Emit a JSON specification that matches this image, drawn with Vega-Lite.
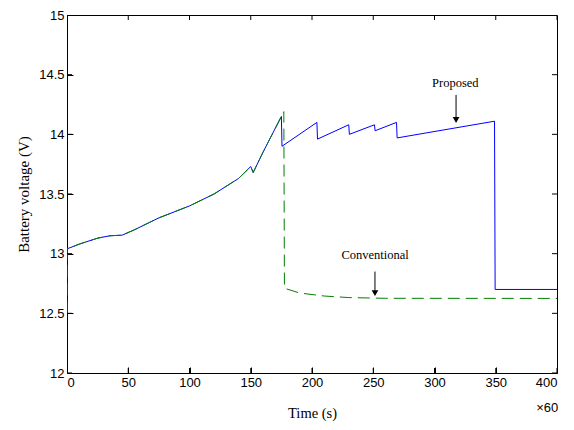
{
  "$schema": "https://vega.github.io/schema/vega-lite/v6.json",
  "width": 490,
  "height": 358,
  "autosize": "none",
  "padding": {"left": 67, "top": 15, "right": 17, "bottom": 57},
  "background": "white",
  "config": {
    "view": {"stroke": "black", "strokeWidth": 1},
    "axis": {
      "grid": false,
      "domain": false,
      "ticks": true,
      "tickColor": "#000000",
      "tickWidth": 1,
      "tickOpacity": 1,
      "zindex": 1,
      "labelColor": "black",
      "labelFont": "Liberation Sans",
      "labelFontSize": 13,
      "titleFont": "Liberation Serif",
      "titleFontSize": 14,
      "titleFontWeight": "normal",
      "titleColor": "black",
      "tickSize": 6,
      "offset": -6
    }
  },
  "datasets": {
    "proposed": [
      {"i": 0, "t": 0, "v": 12.5},
      {"i": 1, "t": 0, "v": 13.04},
      {"i": 2, "t": 10, "v": 13.08},
      {"i": 3, "t": 25, "v": 13.13},
      {"i": 4, "t": 35, "v": 13.15},
      {"i": 5, "t": 45, "v": 13.155},
      {"i": 6, "t": 55, "v": 13.2},
      {"i": 7, "t": 75, "v": 13.3},
      {"i": 8, "t": 100, "v": 13.4},
      {"i": 9, "t": 120, "v": 13.5},
      {"i": 10, "t": 140, "v": 13.63},
      {"i": 11, "t": 150, "v": 13.73},
      {"i": 12, "t": 152, "v": 13.68},
      {"i": 13, "t": 160, "v": 13.85},
      {"i": 14, "t": 170, "v": 14.05},
      {"i": 15, "t": 175, "v": 14.15},
      {"i": 16, "t": 175.5, "v": 13.9},
      {"i": 17, "t": 204, "v": 14.1},
      {"i": 18, "t": 204.5, "v": 13.96},
      {"i": 19, "t": 230, "v": 14.08},
      {"i": 20, "t": 230.5, "v": 14.0},
      {"i": 21, "t": 251, "v": 14.08},
      {"i": 22, "t": 251.5, "v": 14.03},
      {"i": 23, "t": 269, "v": 14.1},
      {"i": 24, "t": 269.5, "v": 13.97},
      {"i": 25, "t": 349, "v": 14.11},
      {"i": 26, "t": 349.5, "v": 12.7},
      {"i": 27, "t": 400, "v": 12.7}
    ],
    "conventional": [
      {"i": 0, "t": 0, "v": 12.5},
      {"i": 1, "t": 0, "v": 13.04},
      {"i": 2, "t": 10, "v": 13.08},
      {"i": 3, "t": 25, "v": 13.13},
      {"i": 4, "t": 35, "v": 13.15},
      {"i": 5, "t": 45, "v": 13.155},
      {"i": 6, "t": 55, "v": 13.2},
      {"i": 7, "t": 75, "v": 13.3},
      {"i": 8, "t": 100, "v": 13.4},
      {"i": 9, "t": 120, "v": 13.5},
      {"i": 10, "t": 140, "v": 13.63},
      {"i": 11, "t": 150, "v": 13.73},
      {"i": 12, "t": 152, "v": 13.68},
      {"i": 13, "t": 160, "v": 13.85},
      {"i": 14, "t": 170, "v": 14.05},
      {"i": 15, "t": 177, "v": 14.19},
      {"i": 16, "t": 177.5, "v": 12.71},
      {"i": 17, "t": 190, "v": 12.67},
      {"i": 18, "t": 210, "v": 12.645},
      {"i": 19, "t": 230, "v": 12.632},
      {"i": 20, "t": 260, "v": 12.626},
      {"i": 21, "t": 400, "v": 12.625}
    ],
    "labels": [
      {"label": "Proposed", "t": 317, "v": 14.43},
      {"label": "Conventional", "t": 251.5, "v": 12.99}
    ],
    "arrows": [
      {"t": 317.6, "v1": 14.33, "v2": 14.12, "vh": 14.12},
      {"t": 251.4, "v1": 12.85, "v2": 12.66, "vh": 12.67}
    ],
    "mult": [
      {"label": "×60", "t": 392, "v": 11.71}
    ],
    "xticks": [
      {"t": 0}, {"t": 50}, {"t": 100}, {"t": 150}, {"t": 200}, {"t": 250}, {"t": 300}, {"t": 350}, {"t": 400}
    ],
    "yticks": [
      {"v": 12}, {"v": 12.5}, {"v": 13}, {"v": 13.5}, {"v": 14}, {"v": 14.5}, {"v": 15}
    ]
  },
  "layer": [
    {
      "data": {"name": "proposed"},
      "mark": {"type": "line", "color": "#0000ff", "strokeWidth": 1, "clip": true},
      "encoding": {
        "x": {"field": "t", "type": "quantitative", "scale": {"domain": [0, 400], "nice": false},
          "axis": {"values": [0, 50, 100, 150, 200, 250, 300, 350, 400], "title": "Time (s)", "labelPadding": 3, "titlePadding": 17, "titleFontSize": 14.5}},
        "y": {"field": "v", "type": "quantitative", "scale": {"domain": [12, 15], "nice": false, "zero": false},
          "axis": {"values": [12, 12.5, 13, 13.5, 14, 14.5, 15], "labelExpr": "'' + datum.value", "title": "Battery voltage (V)", "labelPadding": 3, "titlePadding": 7, "titleFontSize": 15}},
        "order": {"field": "i", "type": "quantitative"}
      }
    },
    {
      "data": {"name": "conventional"},
      "mark": {"type": "line", "color": "#008000", "strokeWidth": 1, "strokeDash": [12, 6], "clip": true},
      "encoding": {
        "x": {"field": "t", "type": "quantitative", "axis": null},
        "y": {"field": "v", "type": "quantitative", "axis": null},
        "order": {"field": "i", "type": "quantitative"}
      }
    },
    {
      "data": {"name": "xticks"},
      "mark": {"type": "tick", "orient": "vertical", "color": "black", "size": 10, "thickness": 1, "opacity": 1, "clip": true},
      "encoding": {
        "x": {"field": "t", "type": "quantitative", "axis": null},
        "y": {"datum": 12, "type": "quantitative", "axis": null}
      }
    },
    {
      "data": {"name": "xticks"},
      "mark": {"type": "tick", "orient": "vertical", "color": "black", "size": 10, "thickness": 1, "opacity": 1, "clip": true},
      "encoding": {
        "x": {"field": "t", "type": "quantitative", "axis": null},
        "y": {"datum": 15, "type": "quantitative", "axis": null}
      }
    },
    {
      "data": {"name": "yticks"},
      "mark": {"type": "tick", "orient": "horizontal", "color": "black", "size": 10, "thickness": 1, "opacity": 1, "clip": true},
      "encoding": {
        "y": {"field": "v", "type": "quantitative", "axis": null},
        "x": {"datum": 0, "type": "quantitative", "axis": null}
      }
    },
    {
      "data": {"name": "yticks"},
      "mark": {"type": "tick", "orient": "horizontal", "color": "black", "size": 10, "thickness": 1, "opacity": 1, "clip": true},
      "encoding": {
        "y": {"field": "v", "type": "quantitative", "axis": null},
        "x": {"datum": 400, "type": "quantitative", "axis": null}
      }
    },
    {
      "data": {"name": "arrows"},
      "mark": {"type": "rule", "color": "black", "strokeWidth": 1},
      "encoding": {
        "x": {"field": "t", "type": "quantitative", "axis": null},
        "y": {"field": "v1", "type": "quantitative", "axis": null},
        "y2": {"field": "v2"}
      }
    },
    {
      "data": {"name": "arrows"},
      "mark": {"type": "point", "shape": "triangle-down", "filled": true, "color": "black", "opacity": 1, "size": 45},
      "encoding": {
        "x": {"field": "t", "type": "quantitative", "axis": null},
        "y": {"field": "vh", "type": "quantitative", "axis": null}
      }
    },
    {
      "data": {"name": "labels"},
      "mark": {"type": "text", "font": "Liberation Serif", "fontSize": 12.5, "letterSpacing": 1.2, "color": "black", "align": "center", "baseline": "middle"},
      "encoding": {
        "x": {"field": "t", "type": "quantitative", "axis": null},
        "y": {"field": "v", "type": "quantitative", "axis": null},
        "text": {"field": "label"}
      }
    },
    {
      "data": {"name": "mult"},
      "mark": {"type": "text", "font": "Liberation Sans", "fontSize": 13, "color": "black", "align": "center", "baseline": "middle"},
      "encoding": {
        "x": {"field": "t", "type": "quantitative", "axis": null},
        "y": {"field": "v", "type": "quantitative", "axis": null},
        "text": {"field": "label"}
      }
    }
  ],
  "resolve": {"axis": {"x": "independent", "y": "independent"}}
}
